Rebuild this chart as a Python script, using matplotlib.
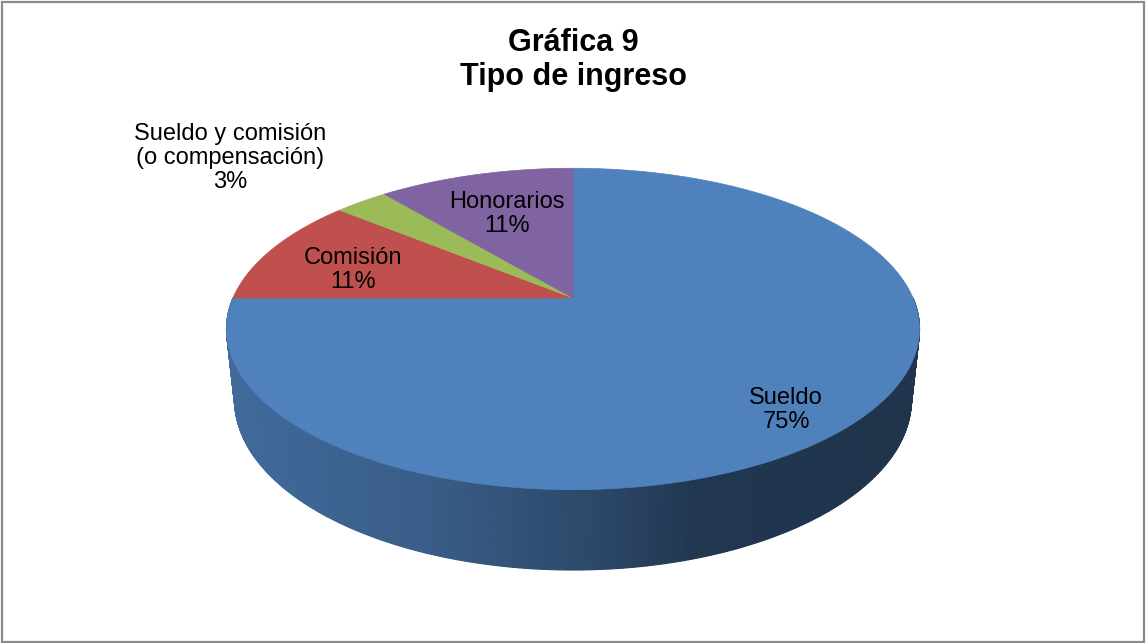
import numpy as np
import matplotlib.pyplot as plt
from matplotlib.collections import PolyCollection
from matplotlib.patches import Polygon, Rectangle
from matplotlib.colors import to_rgb

plt.rcParams['font.family'] = ['Liberation Sans', 'DejaVu Sans']

# Datos de la gráfica
categorias = ["Sueldo", "Comisión", "Sueldo y comisión\n(o compensación)", "Honorarios"]
porcentajes = [75, 11, 3, 11]
colores = ["#4F81BD", "#C0504D", "#9BBB59", "#8064A2"]
titulo = "Gráfica 9\nTipo de ingreso"

# posiciones de las etiquetas (en pixeles relativos al centro del pastel)
pos_etiquetas = [(213, -112), (-220, 28), (-343, 140), (-66, 84)]

# Parametros de la perspectiva 3D
f_foc = 1572.0
dist = 4.623
phi = np.radians(27.07)
grosor = 0.235


def proyectar(t, z):
    x = np.cos(t)
    y = np.sin(t)
    arriba = y * np.sin(phi) + z * np.cos(phi)
    prof = dist + y * np.cos(phi) - z * np.sin(phi)
    return f_foc * x / prof, f_foc * arriba / prof


def sombrear(color, sx):
    # degradado horizontal: claro a la izquierda, oscuro a la derecha
    k = np.interp(sx, [-345, -150, 0, 130, 345], [0.82, 0.72, 0.58, 0.42, 0.40])
    return tuple(np.clip(np.array(to_rgb(color)) * k, 0, 1))


fracciones = np.array(porcentajes) / np.sum(porcentajes)
acumulado = np.concatenate([[0], np.cumsum(fracciones)])
bordes = np.radians(90 - 360 * acumulado)

fig = plt.figure(figsize=(11.46, 6.43), dpi=100)
ax = fig.add_axes([0, 0, 1, 1])
ax.set_xlim(-573, 573)
ax.set_ylim(-345, 298)
ax.axis("off")

# Pared lateral (solo la mitad frontal)
ts = np.linspace(-np.pi, 0, 361)
quads, caras = [], []
for a, b in zip(ts[:-1], ts[1:]):
    tm = 0.5 * (a + b)
    frac = ((90 - np.degrees(tm)) % 360) / 360
    i = min(np.searchsorted(acumulado, frac, side="right") - 1, len(colores) - 1)
    x1, y1 = proyectar(np.array([a, b]), 0)
    x2, y2 = proyectar(np.array([b, a]), -grosor)
    quads.append((np.sin(tm), list(zip(x1, y1)) + list(zip(x2, y2))))
    caras.append(sombrear(colores[i], np.mean(x1)))
orden = np.argsort([-q[0] for q in quads])
pc = PolyCollection([quads[j][1] for j in orden], facecolors=[caras[j] for j in orden],
                    edgecolors=[caras[j] for j in orden], linewidths=0.8)
ax.add_collection(pc)

# Cara superior
for i in range(len(porcentajes)):
    t = np.linspace(bordes[i], bordes[i + 1], 200)
    sx, sy = proyectar(t, 0)
    pts = [(0, 0)] + list(zip(sx, sy))
    ax.add_patch(Polygon(pts, closed=True, facecolor=colores[i], edgecolor=colores[i], linewidth=0.5))

# Etiquetas
for cat, p, (lx, ly) in zip(categorias, porcentajes, pos_etiquetas):
    ax.text(lx, ly, f"{cat}\n{p}%", ha="center", va="center", fontsize=17, color="black",
            linespacing=1.12)

ax.text(0, 238, titulo, ha="center", va="center", fontsize=22, fontweight="bold", linespacing=1.15)

# Marco del grafico
fig.add_artist(Rectangle((1.5 / 1146, 1.5 / 643), 1 - 3.5 / 1146, 1 - 3.5 / 643, transform=fig.transFigure,
                         fill=False, edgecolor="#8a8a8a", linewidth=1.6))

plt.savefig("out.png", dpi=100)
